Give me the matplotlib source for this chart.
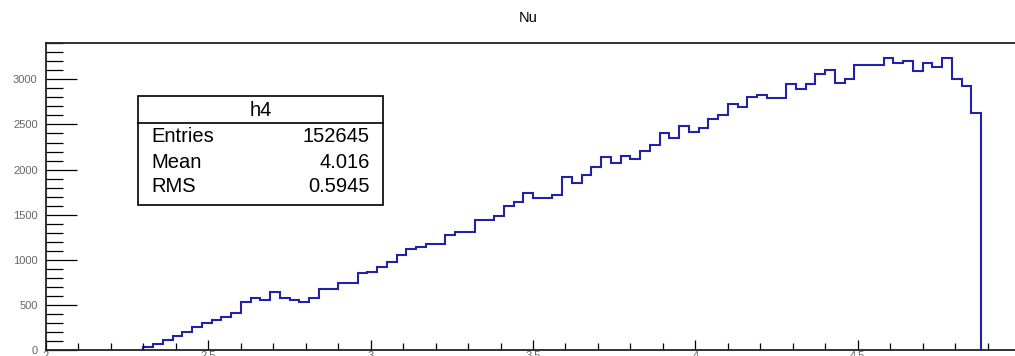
import numpy as np
import matplotlib
matplotlib.use("Agg")
import matplotlib.pyplot as plt
from matplotlib.ticker import MultipleLocator

plt.rcParams["font.family"] = ["Liberation Sans", "DejaVu Sans"]

# histogram h4: bins of 0.03 starting at 2.30
bin_lo = 2.30
bin_width = 0.03
counts = [30, 66, 115, 159, 203, 260, 294, 336, 366, 406,
          536, 573, 550, 645, 575, 555, 536, 580, 673, 673,
          739, 739, 850, 868, 915, 979, 1053, 1118, 1138, 1175,
          1175, 1275, 1312, 1312, 1440, 1440, 1489, 1600, 1644, 1737,
          1689, 1689, 1718, 1915, 1848, 1940, 2025, 2136, 2070, 2151,
          2114, 2208, 2273, 2402, 2354, 2487, 2421, 2465, 2557, 2605,
          2727, 2690, 2801, 2823, 2797, 2797, 2949, 2890, 2949, 3056,
          3104, 2956, 3001, 3160, 3160, 3160, 3241, 3178, 3204, 3093,
          3178, 3134, 3241, 3004, 2930, 2624]
edges = bin_lo + bin_width * np.arange(len(counts) + 1)

stat_names = ["Entries", "Mean", "RMS"]
stat_values = ["152645", "4.016", "0.5945"]

W, H = 1015, 356
fig = plt.figure(figsize=(W / 100, H / 100), dpi=100)
ax = fig.add_axes([46 / W, 6 / H, 974 / W, 307 / H])

ax.stairs(counts, edges, baseline=0, color="#2222a8", linewidth=1.5)

ax.set_xlim(2.0, 5.0)
ax.set_ylim(0, 3403)

ax.xaxis.set_major_locator(MultipleLocator(0.5))
ax.xaxis.set_minor_locator(MultipleLocator(0.1))
ax.yaxis.set_major_locator(MultipleLocator(500))
ax.yaxis.set_minor_locator(MultipleLocator(100))
ax.xaxis.set_major_formatter(lambda v, p: f"{v:g}")

ax.tick_params(axis="y", which="major", direction="in", length=22, width=0.9,
               labelsize=8, labelcolor="#666666", pad=6)
ax.tick_params(axis="y", which="minor", direction="in", length=12, width=0.9)
ax.tick_params(axis="x", which="major", direction="in", length=7, width=0.9,
               labelsize=8, labelcolor="#666666", pad=1)
ax.tick_params(axis="x", which="minor", direction="in", length=5, width=0.9)

for s in ax.spines.values():
    s.set_linewidth(1.3)
    s.set_color("#222222")

fig.text(528 / W, 1 - 18 / H, "Nu", ha="center", va="center", fontsize=10.5)

# stats box
bx0, bx1 = 138 / W, 383 / W
by0, by1 = 1 - 205 / H, 1 - 96 / H
sep = 1 - 123 / H
box = plt.Rectangle((bx0, by0), bx1 - bx0, by1 - by0, transform=fig.transFigure,
                    facecolor="white", edgecolor="black", linewidth=1.2)
fig.add_artist(box)
fig.add_artist(plt.Line2D([bx0, bx1], [sep, sep], transform=fig.transFigure,
                          color="black", linewidth=1.2))
fig.text((bx0 + bx1) / 2, 1 - 110 / H, "h4", ha="center", va="center", fontsize=14.5)
row_y = [137, 162, 187]
for name, val, y in zip(stat_names, stat_values, row_y):
    fig.text(151 / W, 1 - y / H, name, ha="left", va="center", fontsize=14.5)
    fig.text(370 / W, 1 - y / H, val, ha="right", va="center", fontsize=14.5)

fig.savefig("out.png", dpi=100)
